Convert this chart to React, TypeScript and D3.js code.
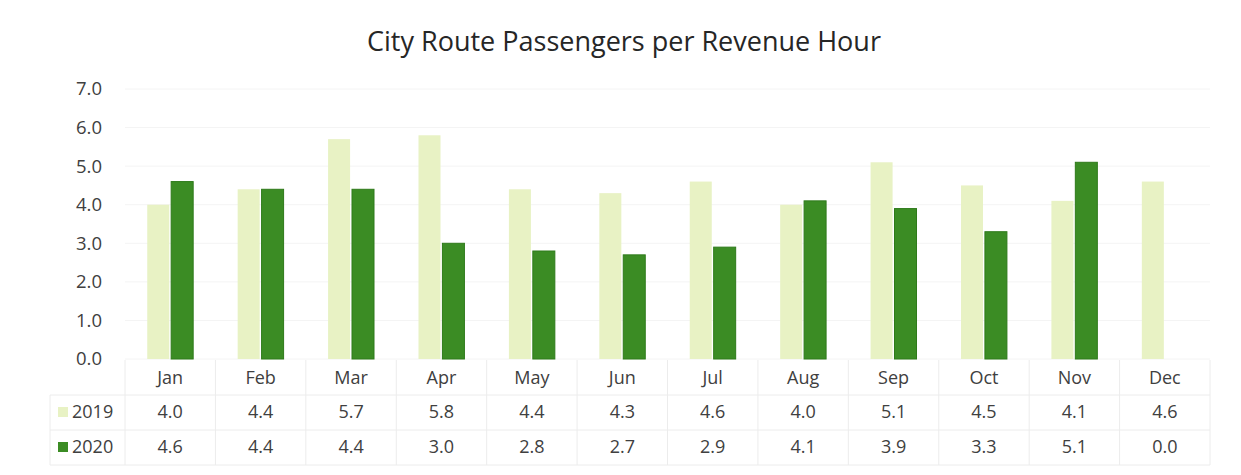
import React from "react";
import * as d3 from "d3";

const months = ["Jan", "Feb", "Mar", "Apr", "May", "Jun", "Jul", "Aug", "Sep", "Oct", "Nov", "Dec"];
const values2019 = [4.0, 4.4, 5.7, 5.8, 4.4, 4.3, 4.6, 4.0, 5.1, 4.5, 4.1, 4.6];
const values2020 = [4.6, 4.4, 4.4, 3.0, 2.8, 2.7, 2.9, 4.1, 3.9, 3.3, 5.1, 0.0];
const seriesNames = ["2019", "2020"];
const yTicks = [0, 1, 2, 3, 4, 5, 6, 7];
const title = "City Route Passengers per Revenue Hour";

const W = 1241;
const H = 475;
const plotLeft = 125;
const plotRight = 1210;
const plotTop = 89;
const plotBottom = 359;
const colors = ["#e8f2c4", "#3b8c24"];
const strokeColors = ["#e8f2c4", "#2e7a1a"];
const font = "'Open Sans', sans-serif";
const textColor = "#404040";

export default function App() {
  const x = d3.scaleBand<string>().domain(months).range([plotLeft, plotRight]).paddingInner(0).paddingOuter(0);
  const y = d3.scaleLinear().domain([0, 7]).range([plotBottom, plotTop]);
  const inner = d3
    .scaleBand<string>()
    .domain(seriesNames)
    .range([0, x.bandwidth()])
    .paddingInner(0.08)
    .paddingOuter(0.93);
  const series = [values2019, values2020];
  const rowY = [378, 412, 447];
  const rowLines = [395, 430, 465];
  const tableTop = 360;

  return (
    <svg width={W} height={H} style={{ position: "absolute", left: 0, top: 0, background: "#fff" }} fontFamily={font}>
      <text x={624} y={51} textAnchor="middle" fontSize={27} fill="#262626">
        {title}
      </text>
      {yTicks.map((t) => (
        <g key={t}>
          <line x1={plotLeft} x2={plotRight} y1={y(t)} y2={y(t)} stroke="#f4f4f4" strokeWidth={1} />
          <text x={102} y={y(t)} dy="0.35em" textAnchor="end" fontSize={18.5} fill={textColor}>
            {t.toFixed(1)}
          </text>
        </g>
      ))}
      {series.map((vals, si) =>
        months.map((m, i) => {
          const v = vals[i];
          if (v <= 0) return null;
          const bx = (x(m) as number) + (inner(seriesNames[si]) as number);
          return (
            <rect
              key={`${si}-${m}`}
              x={bx}
              y={y(v)}
              width={inner.bandwidth()}
              height={y(0) - y(v)}
              fill={colors[si]}
              stroke={strokeColors[si]}
              strokeWidth={si === 1 ? 1 : 0}
            />
          );
        })
      )}
      {months.concat(["_end"]).map((m, i) => {
        const xx = i < months.length ? (x(m) as number) : plotRight;
        return <line key={`v${i}`} x1={xx} x2={xx} y1={tableTop} y2={rowLines[2]} stroke="#ececec" strokeWidth={1} />;
      })}
      <line x1={50} x2={50} y1={rowLines[0]} y2={rowLines[2]} stroke="#ececec" />
      {rowLines.map((ly, i) => (
        <line key={`h${i}`} x1={50} x2={plotRight} y1={ly} y2={ly} stroke="#ececec" strokeWidth={1} />
      ))}
      {months.map((m) => (
        <text key={`m${m}`} x={(x(m) as number) + x.bandwidth() / 2} y={rowY[0]} dy="0.35em" textAnchor="middle" fontSize={18} fill={textColor}>
          {m}
        </text>
      ))}
      {series.map((vals, si) => (
        <g key={`row${si}`}>
          <rect x={58} y={rowY[si + 1] - 5} width={10} height={10} fill={colors[si]} />
          <text x={72} y={rowY[si + 1]} dy="0.35em" fontSize={18} fill={textColor}>
            {seriesNames[si]}
          </text>
          {months.map((m, i) => (
            <text
              key={`v${si}${m}`}
              x={(x(m) as number) + x.bandwidth() / 2}
              y={rowY[si + 1]}
              dy="0.35em"
              textAnchor="middle"
              fontSize={18}
              fill={textColor}
            >
              {vals[i].toFixed(1)}
            </text>
          ))}
        </g>
      ))}
    </svg>
  );
}
